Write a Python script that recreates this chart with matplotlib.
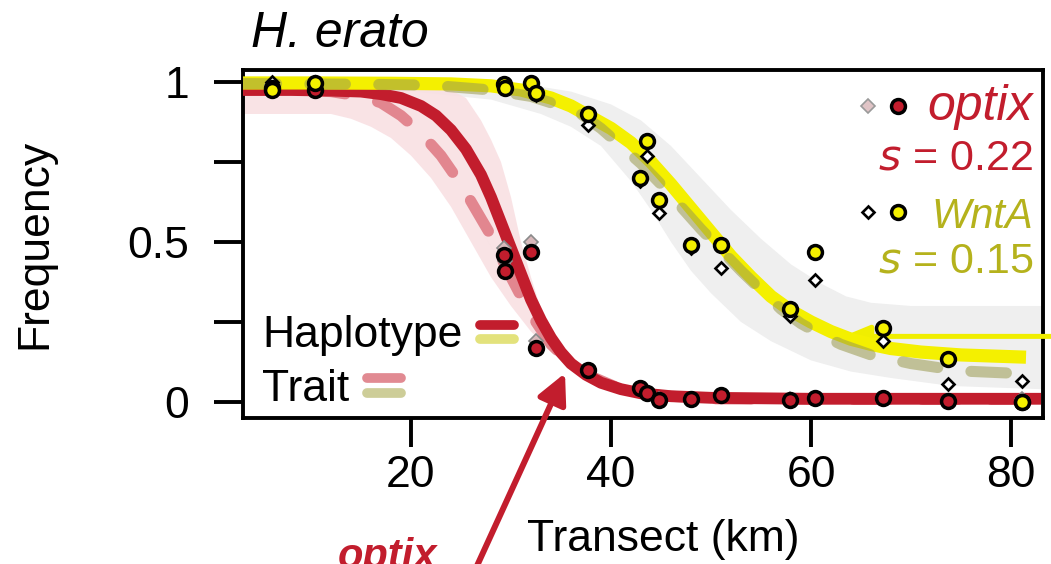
import matplotlib
matplotlib.use("Agg")
import matplotlib.pyplot as plt
from matplotlib.legend_handler import HandlerBase
from matplotlib.lines import Line2D

plt.rcParams['font.family'] = ['Liberation Sans', 'DejaVu Sans']

red = '#c21d2d'
pink = '#e2868f'
pinkBand = '#f9e0e3'
yellow = '#f4f000'
olive = '#9a9a50'
greyBand = '#efefef'
wntaText = '#b5b21c'

# sampling sites along the transect (km)
sites = [6.1, 10.4, 29.3, 29.4, 32.0, 32.5, 37.7, 42.9, 43.6, 44.8, 48.0, 51.0, 57.9, 60.4, 67.2, 73.7, 81.1]
optixHap = [0.98, 0.975, 0.46, 0.41, 0.47, 0.17, 0.10, 0.044, 0.028, 0.006, 0.009, 0.022, 0.006, 0.012, 0.012, 0.004, 0.0]
optixTrait = [0.99, 0.99, 0.48, 0.44, 0.50, 0.19, 0.10, 0.04, 0.03, 0.01, 0.01, 0.02, 0.01, 0.01, 0.01, 0.0, 0.01]
wntaHap = [0.975, 0.997, 0.994, 0.98, 0.997, 0.965, 0.90, 0.70, 0.816, 0.63, 0.49, 0.49, 0.29, 0.47, 0.23, 0.135, 0.0]
wntaTrait = [1.0, 1.0, 0.99, 0.98, 0.99, 0.96, 0.866, 0.69, 0.77, 0.59, 0.48, 0.42, 0.27, 0.38, 0.19, 0.056, 0.066]

# fitted clines
optixHapX = [3, 8, 12, 15, 17, 19, 21, 22.5, 24, 25.5, 27, 28, 29, 30, 31, 32, 33, 34, 35, 36, 37.5, 39, 41, 43, 46, 50, 60, 70, 83]
optixHapY = [0.975, 0.975, 0.973, 0.97, 0.962, 0.95, 0.925, 0.895, 0.85, 0.79, 0.71, 0.64, 0.56, 0.48, 0.40, 0.32, 0.255, 0.20, 0.155, 0.12, 0.085, 0.06, 0.04, 0.027, 0.018, 0.013, 0.01, 0.01, 0.01]
optixTraitX = [3, 8, 12, 15, 17, 19, 21, 23, 25, 26.5, 28, 29.5, 31, 32.5, 34, 36, 38, 41, 45, 50, 60, 70, 83]
optixTraitY = [0.975, 0.975, 0.97, 0.955, 0.935, 0.895, 0.84, 0.77, 0.68, 0.60, 0.52, 0.42, 0.33, 0.25, 0.18, 0.12, 0.08, 0.04, 0.02, 0.01, 0.008, 0.008, 0.008]
optixBandUpX = [3, 18, 22, 24, 25.5, 27, 28, 29, 30, 31, 32, 33, 34, 35, 36.5, 38, 40.5, 44, 50, 83]
optixBandUpY = [0.99, 0.99, 0.985, 0.975, 0.95, 0.88, 0.82, 0.75, 0.64, 0.50, 0.39, 0.29, 0.21, 0.155, 0.105, 0.075, 0.045, 0.03, 0.025, 0.025]
optixBandLoX = [3, 12, 14, 16, 18, 20, 22, 24, 26, 28, 30, 32, 34, 36, 38, 40, 43, 47, 55, 83]
optixBandLoY = [0.90, 0.90, 0.885, 0.86, 0.825, 0.77, 0.70, 0.61, 0.50, 0.39, 0.30, 0.22, 0.16, 0.11, 0.075, 0.05, 0.025, 0.01, 0.0, -0.005]

wntaHapX = [3, 10, 18, 24, 28, 31, 34, 36, 38, 40, 42, 44, 46, 48, 50, 52, 54, 56, 58, 60, 62, 64, 66, 68, 71, 75, 81.5]
wntaHapY = [0.997, 0.997, 0.996, 0.994, 0.988, 0.975, 0.95, 0.925, 0.89, 0.855, 0.81, 0.75, 0.68, 0.605, 0.53, 0.455, 0.39, 0.33, 0.285, 0.25, 0.22, 0.196, 0.18, 0.167, 0.156, 0.147, 0.14]
wntaTraitX = [3, 15, 22, 28, 32, 35, 37, 39, 41, 43, 45, 47, 49, 51, 53, 55, 57, 59, 61, 63, 66, 70, 75, 81.5]
wntaTraitY = [0.995, 0.993, 0.99, 0.975, 0.955, 0.925, 0.90, 0.855, 0.80, 0.745, 0.68, 0.61, 0.54, 0.475, 0.41, 0.35, 0.29, 0.245, 0.21, 0.18, 0.147, 0.12, 0.097, 0.088]
wntaBandUpX = [3, 25, 32, 36, 40, 43, 46, 49, 52, 55, 58, 61, 63.5, 66, 70, 83]
wntaBandUpY = [1.0, 1.0, 0.99, 0.97, 0.93, 0.88, 0.80, 0.70, 0.60, 0.51, 0.43, 0.37, 0.33, 0.31, 0.30, 0.30]
wntaBandLoX = [3, 20, 28, 33, 36, 39, 42, 44, 46, 48, 50, 53, 56, 60, 64, 68, 74, 83]
wntaBandLoY = [0.98, 0.97, 0.945, 0.90, 0.86, 0.80, 0.69, 0.60, 0.50, 0.41, 0.34, 0.25, 0.19, 0.13, 0.095, 0.075, 0.05, 0.04]


class StackedLines(HandlerBase):
    """Draw a tuple of lines as short swatches stacked one over the other"""
    def create_artists(self, legend, orig_handle, xdescent, ydescent, width, height, fontsize, trans):
        mid = height / 2 - ydescent
        gap = 5.2
        artists = []
        for line, dy in zip(orig_handle, (gap, -gap)):
            swatch = Line2D([-xdescent, -xdescent + width], [mid + dy, mid + dy],
                            color=line.get_color(), lw=line.get_linewidth(),
                            solid_capstyle='round', transform=trans)
            artists.append(swatch)
        return artists


fig = plt.figure(figsize=(10.51, 5.64), dpi=100)
ax = fig.add_axes([0.2312, 0.2589, 0.7612, 0.6170])

# confidence bands as closed polygons (upper edge then lower edge backwards)
ax.fill(wntaBandUpX + wntaBandLoX[::-1], wntaBandUpY + wntaBandLoY[::-1], color=greyBand, lw=0, zorder=1)
ax.fill(optixBandUpX + optixBandLoX[::-1], optixBandUpY + optixBandLoY[::-1], color=pinkBand, lw=0, zorder=1.1, alpha=0.9)

# haplotype clines (solid) with trait clines (dashed)
ax.plot(optixTraitX, optixTraitY, color=pink, lw=8, dashes=(3.2, 3.0), dash_capstyle='round', zorder=2)
ax.plot(optixHapX, optixHapY, color=red, lw=8.5, solid_capstyle='butt', zorder=3)
ax.plot(wntaHapX, wntaHapY, color=yellow, lw=9.5, solid_capstyle='butt', zorder=3.1)
ax.plot(wntaTraitX, wntaTraitY, color=olive, alpha=0.55, lw=8, dashes=(3.2, 3.0), dash_capstyle='round', zorder=3.5)

# observed frequencies
ax.plot(sites, optixTrait, ls='none', marker='D', ms=7, mfc='#d9b9bb', mec='#8a8a8a', mew=1.2, zorder=4)
ax.plot(sites, wntaTrait, ls='none', marker='D', ms=6.5, mfc='white', mec='black', mew=1.9, zorder=4)
ax.plot(sites, optixHap, ls='none', marker='o', ms=10, mfc=red, mec='black', mew=2.5, zorder=5)
ax.plot(sites, wntaHap, ls='none', marker='o', ms=10, mfc=yellow, mec='black', mew=2.5, zorder=5.1)

ax.set_xlim(3.2, 83.2)
ax.set_ylim(-0.05, 1.0375)
ax.set_xticks([20, 40, 60, 80])
ax.set_yticks([0, 0.25, 0.5, 0.75, 1])
ax.set_yticklabels(['0', '', '0.5', '', '1'])
ax.tick_params(axis='both', length=21, width=2.8, labelsize=32, color='black')
ax.tick_params(axis='y', pad=18)
ax.tick_params(axis='x', pad=6)
for spine in ax.spines.values():
    spine.set_linewidth(2.8)

ax.set_xlabel('Transect (km)', fontsize=32)
ax.xaxis.set_label_coords(0.525, -0.29)
ax.set_ylabel('Frequency', fontsize=32)
ax.yaxis.set_label_coords(-0.234, 0.5)

fig.text(251 / 1051, 1 - 47 / 564, 'H. erato', fontsize=36, style='italic', va='baseline', ha='left')

# gene key on the right
ax.plot([65.7], [0.925], ls='none', marker='D', ms=7, mfc='#e0c4c6', mec='#9a9a9a', mew=1.2, zorder=6)
ax.plot([68.7], [0.925], ls='none', marker='o', ms=10, mfc=red, mec='black', mew=2.5, zorder=6)
ax.text(82.2, 0.881, 'optix', fontsize=36, style='italic', color=red, ha='right', va='baseline', zorder=6)
ax.text(82.2, 0.725, '$s$ = 0.22', fontsize=31, color=red, ha='right', va='baseline', zorder=6)
ax.plot([65.7], [0.594], ls='none', marker='D', ms=6.5, mfc='white', mec='black', mew=1.9, zorder=6)
ax.plot([68.7], [0.594], ls='none', marker='o', ms=10, mfc=yellow, mec='black', mew=2.5, zorder=6)
ax.text(82.2, 0.544, 'WntA', fontsize=30, style='italic', color=wntaText, ha='right', va='baseline', zorder=6)
ax.text(82.2, 0.406, '$s$ = 0.15', fontsize=31, color=wntaText, ha='right', va='baseline', zorder=6)

# legend: haplotype / trait swatches
hapHandle = (Line2D([], [], color=red, lw=7), Line2D([], [], color='#e3e27c', lw=7))
traitHandle = (Line2D([], [], color='#e18a92', lw=7), Line2D([], [], color='#cdcd98', lw=7))
legendOptions = dict(frameon=False, markerfirst=False, borderpad=0, borderaxespad=0,
                     handlelength=0.75, handletextpad=0.4, fontsize=32,
                     handler_map={tuple: StackedLines()})
hapLegend = ax.legend([hapHandle], ['Haplotype'], loc='center left', bbox_to_anchor=(0.024, 0.236), **legendOptions)
ax.add_artist(hapLegend)
ax.legend([traitHandle], ['Trait'], loc='center left', bbox_to_anchor=(0.024, 0.082), **legendOptions)

# arrows pointing at the clines
ax.annotate('', xy=(35.4, 0.09), xytext=(25.9, -0.56), annotation_clip=False,
            arrowprops=dict(arrowstyle='-|>,head_length=0.9,head_width=0.45', mutation_scale=20,
                            color=red, lw=4.3, shrinkA=0, shrinkB=0))
ax.annotate('', xy=(63.2, 0.205), xytext=(86.5, 0.205), annotation_clip=False,
            arrowprops=dict(arrowstyle='-|>,head_length=0.8,head_width=0.33', mutation_scale=20,
                            color='#f0ee00', lw=3.6, shrinkA=0, shrinkB=0))
fig.text(338 / 1051, -4 / 564, 'optix', fontsize=30, style='italic', weight='bold', color=red,
         ha='left', va='baseline')

fig.savefig('out.png', dpi=100)
